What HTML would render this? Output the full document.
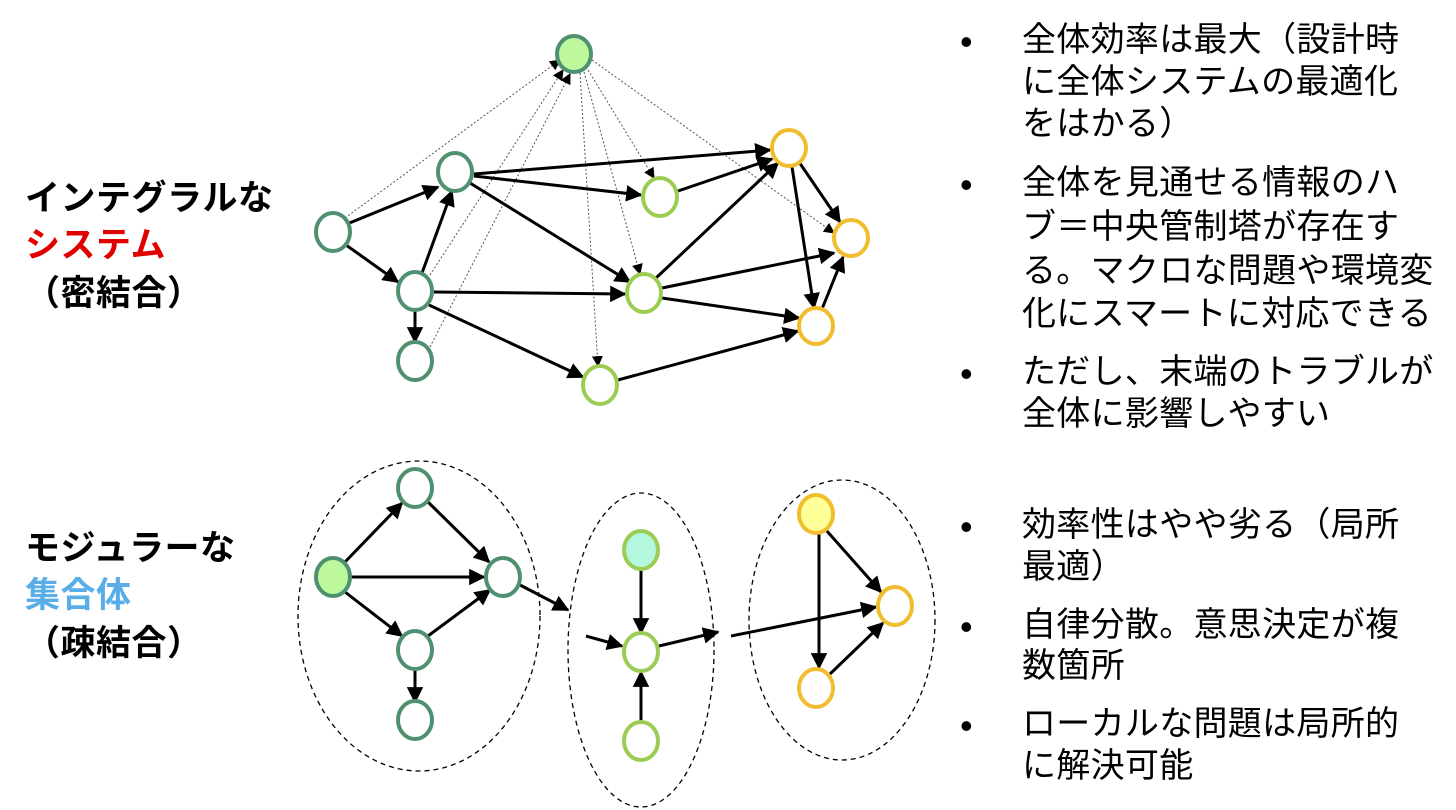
<!DOCTYPE html>
<html><head><meta charset="utf-8"><style>
body{margin:0;width:1456px;height:810px;background:#fff;overflow:hidden;position:relative;font-family:"Liberation Sans","Noto Sans CJK JP",sans-serif;}
.l{position:absolute;font-weight:bold;font-size:35px;letter-spacing:0.5px;white-space:nowrap;line-height:1;}
.t{position:absolute;font-size:34px;letter-spacing:0.3px;white-space:nowrap;line-height:1;left:1022px;color:#000;}
.b{position:absolute;left:960px;font-size:36px;line-height:1;}
svg{position:absolute;left:0;top:0;}
</style></head><body>
<svg width="1456" height="810" viewBox="0 0 1456 810">
<defs>
<marker id="a" viewBox="0 0 10 10" refX="9" refY="5" markerWidth="5.5" markerHeight="5.5" orient="auto"><path d="M0,0L10,5L0,10z" fill="#000"/></marker>
<marker id="d" viewBox="0 0 10 10" refX="9" refY="5" markerWidth="11" markerHeight="11" orient="auto"><path d="M0,0L10,5L0,10z" fill="#000"/></marker>
</defs>
<g stroke="#555" stroke-width="1" stroke-dasharray="2,2" fill="none" marker-end="url(#d)">
<line x1="345" y1="218" x2="560" y2="60"/>
<line x1="430" y1="275" x2="563" y2="70"/>
<line x1="430" y1="347" x2="570" y2="74"/>
<line x1="580" y1="73" x2="598" y2="366"/>
<line x1="584" y1="72" x2="640" y2="274"/>
<line x1="588" y1="70" x2="654" y2="178"/>
<line x1="592" y1="60" x2="834" y2="233"/>
</g>
<g stroke="#000" stroke-width="3" fill="none" marker-end="url(#a)">
<line x1="347" y1="224" x2="438" y2="187"/>
<line x1="346" y1="245" x2="398" y2="282"/>
<line x1="422" y1="273" x2="452" y2="191"/>
<line x1="415" y1="310" x2="415" y2="342"/>
<line x1="474" y1="174" x2="770" y2="150"/>
<line x1="474" y1="176" x2="641" y2="195"/>
<line x1="470" y1="183" x2="630" y2="282"/>
<line x1="434" y1="292" x2="625" y2="294"/>
<line x1="429" y1="305" x2="583" y2="377"/>
<line x1="678" y1="191" x2="772" y2="159"/>
<line x1="656" y1="278" x2="778" y2="163"/>
<line x1="662" y1="288" x2="834" y2="253"/>
<line x1="662" y1="298" x2="799" y2="318"/>
<line x1="618" y1="380" x2="798" y2="331"/>
<line x1="799" y1="162" x2="840" y2="222"/>
<line x1="792" y1="167" x2="814" y2="308"/>
<line x1="822" y1="309" x2="843" y2="257"/>
</g>
<g stroke-width="4" fill="#fff">
<ellipse cx="574" cy="54" rx="17" ry="18" fill="#bdf89c" stroke="#4f9070"/>
<g stroke="#4f9070"><ellipse cx="333" cy="232" rx="17" ry="19"/><ellipse cx="455" cy="172" rx="17" ry="19"/><ellipse cx="415" cy="291" rx="17" ry="19"/><ellipse cx="415" cy="361" rx="17" ry="19"/></g>
<g stroke="#9dcc55"><ellipse cx="660" cy="197" rx="17" ry="19"/><ellipse cx="644" cy="293" rx="17" ry="19"/><ellipse cx="600" cy="385" rx="17" ry="19"/></g>
<g stroke="#f0bd2d"><ellipse cx="789" cy="148" rx="17" ry="18"/><ellipse cx="851" cy="238" rx="17" ry="18"/><ellipse cx="816" cy="326" rx="17" ry="18"/></g>
</g>
<g stroke="#000" stroke-width="1.3" stroke-dasharray="5,4" fill="none">
<ellipse cx="419" cy="616" rx="121" ry="155"/>
<ellipse cx="641" cy="650" rx="73" ry="157"/>
<ellipse cx="842" cy="620" rx="93" ry="140"/>
</g>
<g stroke="#000" stroke-width="3" fill="none" marker-end="url(#a)">
<line x1="345" y1="562" x2="402" y2="503"/>
<line x1="351" y1="577" x2="484" y2="577"/>
<line x1="345" y1="592" x2="402" y2="636"/>
<line x1="428" y1="502" x2="489" y2="562"/>
<line x1="428" y1="636" x2="490" y2="590"/>
<line x1="415" y1="669" x2="415" y2="702"/>
<line x1="520" y1="585" x2="568" y2="610"/>
<line x1="586" y1="636" x2="622" y2="646"/>
<line x1="659" y1="646" x2="718" y2="632"/>
<line x1="731" y1="636" x2="876" y2="607"/>
<line x1="641" y1="569" x2="641" y2="633"/>
<line x1="641" y1="723" x2="641" y2="672"/>
<line x1="826" y1="530" x2="881" y2="592"/>
<line x1="819" y1="534" x2="819" y2="668"/>
<line x1="830" y1="674" x2="883" y2="623"/>
</g>
<g stroke-width="4" fill="#fff">
<g stroke="#4f9070"><ellipse cx="415" cy="488" rx="17" ry="19"/><ellipse cx="333" cy="577" rx="17" ry="19" fill="#bdf89c"/><ellipse cx="503" cy="577" rx="17" ry="19"/><ellipse cx="415" cy="650" rx="17" ry="19"/><ellipse cx="415" cy="720" rx="17" ry="19"/></g>
<g stroke="#9dcc55"><ellipse cx="641" cy="550" rx="17" ry="19" fill="#b3f8de"/><ellipse cx="641" cy="652" rx="17" ry="19"/><ellipse cx="641" cy="741" rx="17" ry="19"/></g>
<g stroke="#f0bd2d"><ellipse cx="816" cy="514" rx="17" ry="19" fill="#ffff99"/><ellipse cx="895" cy="606" rx="17" ry="19"/><ellipse cx="816" cy="688" rx="17" ry="19"/></g>
</g>
</svg>
<div class="l" style="left:25px;top:181px;">インテグラルな</div>
<div class="l" style="left:25px;top:228px;color:#e00000;">システム</div>
<div class="l" style="left:25px;top:276px;">（密結合）</div>
<div class="l" style="left:25px;top:531px;">モジュラーな</div>
<div class="l" style="left:25px;top:578px;color:#5aaee8;">集合体</div>
<div class="l" style="left:25px;top:626px;">（疎結合）</div>

<div class="b" style="top:24px">•</div>
<div class="t" style="top:23px">全体効率は最大（設計時</div>
<div class="t" style="top:65px">に全体システムの最適化</div>
<div class="t" style="top:107px">をはかる）</div>
<div class="b" style="top:167px">•</div>
<div class="t" style="top:166px">全体を見通せる情報のハ</div>
<div class="t" style="top:210px">ブ＝中央管制塔が存在す</div>
<div class="t" style="top:254px">る。マクロな問題や環境変</div>
<div class="t" style="top:297px">化にスマートに対応できる</div>
<div class="b" style="top:356px">•</div>
<div class="t" style="top:355px">ただし、末端のトラブルが</div>
<div class="t" style="top:397px">全体に影響しやすい</div>
<div class="b" style="top:509px">•</div>
<div class="t" style="top:508px">効率性はやや劣る（局所</div>
<div class="t" style="top:550px">最適）</div>
<div class="b" style="top:609px">•</div>
<div class="t" style="top:608px">自律分散。意思決定が複</div>
<div class="t" style="top:649px">数箇所</div>
<div class="b" style="top:708px">•</div>
<div class="t" style="top:707px">ローカルな問題は局所的</div>
<div class="t" style="top:749px">に解決可能</div>
</body></html>
